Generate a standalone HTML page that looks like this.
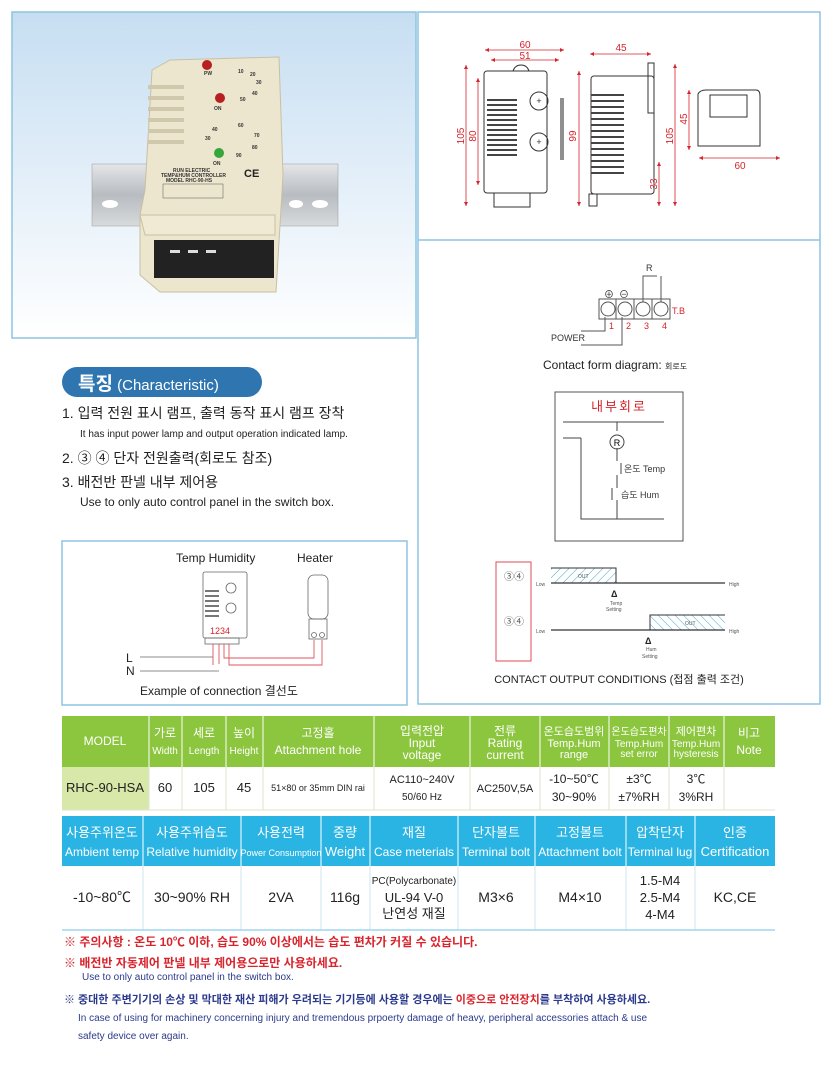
<!DOCTYPE html>
<html><head><meta charset="utf-8"><style>
html,body{margin:0;padding:0;background:#fff}
svg{display:block;font-family:"Liberation Sans","Noto Sans CJK KR",sans-serif}
</style></head><body>
<svg width="833" height="1077" viewBox="0 0 833 1077" xmlns="http://www.w3.org/2000/svg">
<defs>
<linearGradient id="bg" x1="0" y1="0" x2="0" y2="1"><stop offset="0" stop-color="#c6def2"/><stop offset="1" stop-color="#ffffff"/></linearGradient>
<linearGradient id="rail" x1="0" y1="0" x2="0" y2="1"><stop offset="0" stop-color="#e4e6e8"/><stop offset="0.5" stop-color="#b8bcc0"/><stop offset="1" stop-color="#d8dadc"/></linearGradient>
<pattern id="h1" width="6" height="6" patternUnits="userSpaceOnUse" patternTransform="rotate(45)"><line x1="0" y1="0" x2="0" y2="6" stroke="#3aa7d0" stroke-width="1"/></pattern>
<pattern id="h2" width="6" height="6" patternUnits="userSpaceOnUse" patternTransform="rotate(-45)"><line x1="0" y1="0" x2="0" y2="6" stroke="#3aa7d0" stroke-width="1"/></pattern>
<marker id="ar" viewBox="0 0 6 6" refX="6" refY="3" markerWidth="5" markerHeight="5" orient="auto-start-reverse"><path d="M0,0L6,3L0,6z" fill="#d4242c"/></marker>
</defs>

<!-- photo panel -->
<rect x="12" y="12" width="404" height="326" fill="url(#bg)" stroke="#8ec4e0" stroke-width="1.5"/>
<rect x="92" y="164" width="246" height="62" fill="url(#rail)" stroke="#999" stroke-width="0.5"/>
<ellipse cx="110" cy="204" rx="8" ry="4" fill="#fff"/><ellipse cx="320" cy="204" rx="8" ry="4" fill="#fff"/><ellipse cx="296" cy="204" rx="7" ry="4" fill="#fff"/>
<path d="M152,70 L170,60 L279,57 L283,175 L276,292 L160,292 L140,275 L140,215 L145,190 Z" fill="#ece6cf" stroke="#c8c0a4"/>
<g fill="#cfc8ad"><rect x="148" y="85" width="36" height="4"/><rect x="148" y="96" width="36" height="4"/><rect x="148" y="107" width="36" height="4"/><rect x="148" y="118" width="36" height="4"/><rect x="148" y="129" width="36" height="4"/><rect x="148" y="140" width="36" height="4"/></g>
<rect x="154" y="240" width="120" height="38" fill="#222"/>
<g fill="#ddd"><rect x="170" y="250" width="10" height="3"/><rect x="188" y="250" width="10" height="3"/><rect x="206" y="250" width="10" height="3"/></g>
<path d="M140,215 L275,215 L275,235 L145,235 Z" fill="#f0ead4" stroke="#c8c0a4"/>
<circle cx="207" cy="65" r="5" fill="#b81f20"/><circle cx="220" cy="98" r="5" fill="#b81f20"/><circle cx="219" cy="153" r="5" fill="#36a53a"/>
<g font-size="5" fill="#333" font-weight="bold"><text x="204" y="75">PW</text><text x="214" y="110">ON</text><text x="213" y="165">ON</text>
<text x="238" y="73">10</text><text x="250" y="76">20</text><text x="256" y="84">30</text><text x="252" y="95">40</text><text x="240" y="101">50</text><text x="238" y="127">60</text><text x="254" y="137">70</text><text x="252" y="149">80</text><text x="236" y="157">90</text><text x="212" y="131">40</text><text x="205" y="140">30</text>
<text x="173" y="172">RUN ELECTRIC</text><text x="161" y="177">TEMP&amp;HUM CONTROLLER</text><text x="166" y="182">MODEL RHC-90-HS</text></g>
<text x="244" y="177" font-size="11" font-weight="bold" fill="#222">CE</text>
<rect x="163" y="184" width="60" height="14" fill="none" stroke="#555" stroke-width="0.5"/>

<!-- right panel -->
<rect x="418" y="12" width="402" height="692" fill="none" stroke="#8ec4e0" stroke-width="1.5"/>
<line x1="418" y1="240" x2="820" y2="240" stroke="#8ec4e0" stroke-width="1.5"/>
<!-- front view -->
<g stroke="#333" fill="none" stroke-width="1">
<rect x="484" y="71" width="63" height="122" rx="3"/>
<rect x="494" y="193" width="36" height="14"/>
<path d="M513,71 q2,-6 8,-6 q6,0 8,6"/>
<circle cx="539" cy="101" r="9"/><circle cx="539" cy="142" r="9"/>
<rect x="591" y="76" width="63" height="118" rx="3"/><rect x="648" y="63" width="6" height="50"/><rect x="589" y="194" width="8" height="12"/>
<path d="M698,94 q2,-4 8,-4 h50 q4,0 4,6 v50 h-62 z"/><rect x="710" y="95" width="37" height="22"/>
</g>
<g fill="#444"><rect x="487" y="99" width="30" height="2"/><rect x="487" y="104" width="30" height="2"/><rect x="487" y="109" width="30" height="2"/><rect x="487" y="114" width="30" height="2"/><rect x="487" y="119" width="30" height="2"/><rect x="487" y="124" width="30" height="2"/><rect x="487" y="129" width="30" height="2"/><rect x="487" y="134" width="30" height="2"/><rect x="487" y="139" width="30" height="2"/><rect x="487" y="144" width="30" height="2"/><rect x="487" y="149" width="30" height="2"/><rect x="487" y="154" width="30" height="2"/>
<rect x="591" y="94" width="33" height="2"/><rect x="591" y="100" width="33" height="2"/><rect x="591" y="106" width="33" height="2"/><rect x="591" y="112" width="33" height="2"/><rect x="591" y="118" width="33" height="2"/><rect x="591" y="124" width="33" height="2"/><rect x="591" y="130" width="33" height="2"/><rect x="591" y="136" width="33" height="2"/><rect x="591" y="142" width="33" height="2"/><rect x="591" y="148" width="33" height="2"/><rect x="591" y="154" width="33" height="2"/><rect x="591" y="160" width="33" height="2"/><rect x="591" y="166" width="33" height="2"/><rect x="591" y="172" width="33" height="2"/>
<rect x="560" y="98" width="4" height="62" opacity="0.6"/></g>
<g font-size="9" fill="#333" text-anchor="middle"><text x="539" y="104">+</text><text x="539" y="145">+</text></g>
<g stroke="#d4242c" stroke-width="0.8" fill="none" marker-start="url(#ar)" marker-end="url(#ar)">
<line x1="485" y1="50" x2="564" y2="50"/><line x1="491" y1="60" x2="559" y2="60"/>
<line x1="590" y1="54" x2="651" y2="54"/>
<line x1="466" y1="65" x2="466" y2="206"/><line x1="478" y1="78" x2="478" y2="185"/><line x1="579" y1="71" x2="579" y2="206"/>
<line x1="675" y1="64" x2="675" y2="206"/><line x1="659" y1="162" x2="659" y2="206"/><line x1="689" y1="90" x2="689" y2="150"/><line x1="699" y1="158" x2="780" y2="158"/>
</g>
<g font-size="10" fill="#d4242c" text-anchor="middle"><text x="525" y="48">60</text><text x="525" y="59">51</text><text x="621" y="51">45</text><text x="740" y="169">60</text>
<text transform="translate(464,136) rotate(-90)">105</text><text transform="translate(476,136) rotate(-90)">80</text><text transform="translate(576,136) rotate(-90)">99</text><text transform="translate(673,136) rotate(-90)">105</text><text transform="translate(657,184) rotate(-90)">33</text><text transform="translate(687,119) rotate(-90)">45</text></g>

<!-- contact form diagram -->
<g stroke="#555" fill="none" stroke-width="1">
<rect x="599" y="299" width="71" height="20"/><line x1="616" y1="299" x2="616" y2="319"/><line x1="634" y1="299" x2="634" y2="319"/><line x1="652" y1="299" x2="652" y2="319"/>
<circle cx="608" cy="309" r="7"/><circle cx="625" cy="309" r="7"/><circle cx="643" cy="309" r="7"/><circle cx="661" cy="309" r="7"/>
<path d="M643,302 V276 H657 M661,302 V276"/><path d="M605,317 V331 H581 M622,317 V345 H581"/>
</g>
<g font-size="9" fill="#d4242c"><text x="609" y="329">1</text><text x="626" y="329">2</text><text x="644" y="329">3</text><text x="662" y="329">4</text><text x="672" y="314">T.B</text></g>
<text x="646" y="271" font-size="9" fill="#333">R</text>
<text x="551" y="341" font-size="9" fill="#333">POWER</text>
<text x="604" y="298" font-size="10" fill="#333">⊕</text><text x="619" y="298" font-size="10" fill="#333">⊖</text>
<text x="543" y="369" font-size="12" fill="#222">Contact form diagram: <tspan font-size="8">회로도</tspan></text>

<!-- internal circuit -->
<rect x="555" y="392" width="128" height="149" fill="none" stroke="#555" stroke-width="1"/>
<text x="619" y="411" font-size="13" fill="#d4242c" text-anchor="middle" letter-spacing="2">내부회로</text>
<g stroke="#444" fill="none"><line x1="563" y1="422" x2="664" y2="422"/><line x1="563" y1="438" x2="581" y2="438"/><path d="M581,438 V519 H664"/><path d="M617,422 V431 M617,448 V461 M617,475 V488 M617,500 V519"/><circle cx="617" cy="442" r="7"/><line x1="621" y1="463" x2="621" y2="474"/><line x1="612" y1="488" x2="612" y2="500"/></g>
<text x="617" y="446" font-size="9" text-anchor="middle">R</text>
<text x="624" y="472" font-size="9" fill="#333">온도 Temp</text><text x="621" y="498" font-size="9" fill="#333">습도 Hum</text>

<!-- output conditions -->
<rect x="496" y="562" width="35" height="99" fill="none" stroke="#e04b55" stroke-width="1"/>
<text x="514" y="580" font-size="10" text-anchor="middle" fill="#555">③④</text><text x="514" y="625" font-size="10" text-anchor="middle" fill="#555">③④</text>
<rect x="551" y="568" width="65" height="15" fill="url(#h1)" stroke="none"/><path d="M551,568 H616 V583" stroke="#333" fill="none"/>
<line x1="551" y1="583" x2="725" y2="583" stroke="#333" stroke-width="1.2"/>
<rect x="650" y="615" width="75" height="15" fill="url(#h2)"/><path d="M650,630 V615 H725" stroke="#333" fill="none"/>
<line x1="551" y1="630" x2="725" y2="630" stroke="#333" stroke-width="1.2"/>
<g font-size="5" fill="#555"><text x="536" y="586">Low</text><text x="536" y="633">Low</text><text x="729" y="586">High</text><text x="729" y="633">High</text><text x="578" y="578">OUT</text><text x="685" y="625">OUT</text>
<text x="610" y="605">Temp</text><text x="606" y="611">Setting</text><text x="646" y="651">Hum</text><text x="642" y="658">Setting</text></g>
<text x="611" y="597" font-size="9" font-weight="bold" fill="#222">Δ</text><text x="645" y="644" font-size="9" font-weight="bold" fill="#222">Δ</text>
<text x="619" y="683" font-size="11" fill="#222" text-anchor="middle">CONTACT OUTPUT CONDITIONS (접점 출력 조건)</text>

<!-- Characteristic -->
<rect x="62" y="367" width="200" height="30" rx="15" fill="#2f76b0"/>
<text x="78" y="390" font-size="19" font-weight="bold" fill="#fff">특징<tspan font-size="15" font-weight="normal"> (Characteristic)</tspan></text>
<g fill="#222"><text x="62" y="418" font-size="14">1. 입력 전원 표시 램프, 출력 동작 표시 램프 장착</text>
<text x="80" y="437" font-size="10">It has input power lamp and output operation indicated lamp.</text>
<text x="62" y="463" font-size="14">2. ③ ④ 단자 전원출력(회로도 참조)</text>
<text x="62" y="487" font-size="14">3. 배전반 판넬 내부 제어용</text>
<text x="80" y="506" font-size="12">Use to only auto control panel in the switch box.</text></g>

<!-- connection example -->
<rect x="62" y="541" width="345" height="164" fill="none" stroke="#8ec4e0" stroke-width="1.5"/>
<g font-size="12" fill="#222"><text x="176" y="562">Temp Humidity</text><text x="297" y="562">Heater</text><text x="126" y="662">L</text><text x="126" y="675">N</text><text x="140" y="695">Example of connection 결선도</text></g>
<g stroke="#666" fill="none" stroke-width="0.8"><rect x="203" y="572" width="44" height="66" rx="2"/><rect x="205" y="638" width="34" height="6"/><circle cx="231" cy="588" r="5"/><circle cx="231" cy="608" r="5"/>
<rect x="308" y="575" width="20" height="44" rx="6"/><rect x="309" y="619" width="18" height="20"/><circle cx="314" cy="635" r="2.5"/><circle cx="322" cy="635" r="2.5"/>
<line x1="140" y1="657" x2="213" y2="657"/><line x1="140" y1="671" x2="219" y2="671"/></g>
<g fill="#777"><rect x="205" y="590" width="14" height="2"/><rect x="205" y="595" width="14" height="2"/><rect x="205" y="600" width="14" height="2"/><rect x="205" y="605" width="14" height="2"/><rect x="205" y="610" width="14" height="2"/><rect x="205" y="615" width="14" height="2"/></g>
<text x="210" y="634" font-size="9" fill="#d4242c">1234</text>
<g stroke="#e0545c" fill="none" stroke-width="0.9"><path d="M213,644 V665 M219,644 V664 M224,644 V658 H314 V640 M229,644 V665 H322 V640"/></g>

<!-- table 1 -->
<rect x="62" y="716" width="713" height="51" fill="#8cc63f"/>
<rect x="62" y="767" width="87" height="43" fill="#d8e8a8"/>
<g stroke="#fff" stroke-width="1"><line x1="149" y1="716" x2="149" y2="767"/><line x1="182" y1="716" x2="182" y2="767"/><line x1="226" y1="716" x2="226" y2="767"/><line x1="263" y1="716" x2="263" y2="767"/><line x1="374" y1="716" x2="374" y2="767"/><line x1="470" y1="716" x2="470" y2="767"/><line x1="540" y1="716" x2="540" y2="767"/><line x1="609" y1="716" x2="609" y2="767"/><line x1="669" y1="716" x2="669" y2="767"/><line x1="724" y1="716" x2="724" y2="767"/></g>
<g stroke="#dde6cc" stroke-width="1"><line x1="149" y1="767" x2="149" y2="810"/><line x1="182" y1="767" x2="182" y2="810"/><line x1="226" y1="767" x2="226" y2="810"/><line x1="263" y1="767" x2="263" y2="810"/><line x1="374" y1="767" x2="374" y2="810"/><line x1="470" y1="767" x2="470" y2="810"/><line x1="540" y1="767" x2="540" y2="810"/><line x1="609" y1="767" x2="609" y2="810"/><line x1="669" y1="767" x2="669" y2="810"/><line x1="724" y1="767" x2="724" y2="810"/><line x1="62" y1="810" x2="775" y2="810"/></g>
<g fill="#fff" text-anchor="middle" font-size="12">
<text x="105" y="745">MODEL</text>
<text x="165" y="737">가로</text><text x="165" y="754" font-size="10">Width</text>
<text x="204" y="737">세로</text><text x="204" y="754" font-size="10">Length</text>
<text x="244" y="737">높이</text><text x="244" y="754" font-size="10">Height</text>
<text x="318" y="737">고정홀</text><text x="318" y="754">Attachment hole</text>
<text x="422" y="735">입력전압</text><text x="422" y="747">Input</text><text x="422" y="759">voltage</text>
<text x="505" y="735">전류</text><text x="505" y="747">Rating</text><text x="505" y="759">current</text>
<text x="574" y="735" font-size="11">온도습도범위</text><text x="574" y="747" font-size="11">Temp.Hum</text><text x="574" y="758" font-size="11">range</text>
<text x="639" y="735" font-size="10">온도습도편차</text><text x="639" y="747" font-size="10">Temp.Hum</text><text x="639" y="757" font-size="10">set error</text>
<text x="696" y="735" font-size="11">제어편차</text><text x="696" y="747" font-size="10">Temp.Hum</text><text x="696" y="757" font-size="10">hysteresis</text>
<text x="749" y="737">비고</text><text x="749" y="754">Note</text></g>
<g fill="#222" text-anchor="middle" font-size="13">
<text x="105" y="792">RHC-90-HSA</text><text x="165" y="792">60</text><text x="204" y="792">105</text><text x="244" y="792">45</text>
<text x="318" y="791" font-size="9">51×80 or 35mm DIN rai</text>
<text x="422" y="783" font-size="11">AC110~240V</text><text x="422" y="800" font-size="10">50/60 Hz</text>
<text x="505" y="792" font-size="11">AC250V,5A</text>
<text x="574" y="783" font-size="12">-10~50℃</text><text x="574" y="801" font-size="12">30~90%</text>
<text x="639" y="783" font-size="12">±3℃</text><text x="639" y="801" font-size="12">±7%RH</text>
<text x="696" y="783" font-size="12">3℃</text><text x="696" y="801" font-size="12">3%RH</text></g>

<!-- table 2 -->
<rect x="62" y="816" width="713" height="50" fill="#2ab4e3"/>
<g stroke="#fff" stroke-width="1"><line x1="143" y1="816" x2="143" y2="866"/><line x1="241" y1="816" x2="241" y2="866"/><line x1="321" y1="816" x2="321" y2="866"/><line x1="370" y1="816" x2="370" y2="866"/><line x1="458" y1="816" x2="458" y2="866"/><line x1="535" y1="816" x2="535" y2="866"/><line x1="626" y1="816" x2="626" y2="866"/><line x1="695" y1="816" x2="695" y2="866"/></g>
<g stroke="#cfe6f0" stroke-width="1"><line x1="143" y1="866" x2="143" y2="930"/><line x1="241" y1="866" x2="241" y2="930"/><line x1="321" y1="866" x2="321" y2="930"/><line x1="370" y1="866" x2="370" y2="930"/><line x1="458" y1="866" x2="458" y2="930"/><line x1="535" y1="866" x2="535" y2="930"/><line x1="626" y1="866" x2="626" y2="930"/><line x1="695" y1="866" x2="695" y2="930"/><line x1="62" y1="930" x2="775" y2="930" stroke="#9fd6ee" stroke-width="1.5"/></g>
<g fill="#fff" text-anchor="middle" font-size="13">
<text x="102" y="837">사용주위온도</text><text x="102" y="856" font-size="12">Ambient temp</text>
<text x="192" y="837">사용주위습도</text><text x="192" y="856" font-size="12">Relative humidity</text>
<text x="281" y="837">사용전력</text><text x="281" y="856" font-size="9">Power Consumption</text>
<text x="345" y="837">중량</text><text x="345" y="856">Weight</text>
<text x="414" y="837">재질</text><text x="414" y="856" font-size="12">Case meterials</text>
<text x="496" y="837">단자볼트</text><text x="496" y="856" font-size="12">Terminal bolt</text>
<text x="580" y="837">고정볼트</text><text x="580" y="856" font-size="12">Attachment bolt</text>
<text x="660" y="837">압착단자</text><text x="660" y="856" font-size="12">Terminal lug</text>
<text x="735" y="837">인증</text><text x="735" y="856">Certification</text></g>
<g fill="#222" text-anchor="middle" font-size="14">
<text x="102" y="902">-10~80℃</text><text x="192" y="902">30~90% RH</text><text x="281" y="902">2VA</text><text x="345" y="902">116g</text>
<text x="414" y="884" font-size="10">PC(Polycarbonate)</text><text x="414" y="902" font-size="13">UL-94 V-0</text><text x="414" y="918" font-size="13">난연성 재질</text>
<text x="496" y="902">M3×6</text><text x="580" y="902">M4×10</text>
<text x="660" y="885" font-size="13">1.5-M4</text><text x="660" y="902" font-size="13">2.5-M4</text><text x="660" y="919" font-size="13">4-M4</text>
<text x="735" y="902">KC,CE</text></g>

<!-- notes -->
<g font-size="12" font-weight="bold">
<text x="64" y="946" fill="#d8242c">※ 주의사항 : 온도 10℃ 이하, 습도 90% 이상에서는 습도 편차가 커질 수 있습니다.</text>
<text x="64" y="967" fill="#d8242c">※ 배전반 자동제어 판넬 내부 제어용으로만 사용하세요.</text>
<text x="64" y="1003" fill="#2b3a8c" font-size="11">※ 중대한 주변기기의 손상 및 막대한 재산 피해가 우려되는 기기등에 사용할 경우에는 <tspan fill="#d8242c">이중으로 안전장치</tspan>를 부착하여 사용하세요.</text></g>
<g font-size="10" fill="#2b3a8c"><text x="82" y="980">Use to only auto control panel in the switch box.</text>
<text x="78" y="1021">In case of using for machinery concerning injury and tremendous prpoerty damage of heavy, peripheral accessories attach &amp; use</text>
<text x="78" y="1039">safety device over again.</text></g>
</svg>
</body></html>
